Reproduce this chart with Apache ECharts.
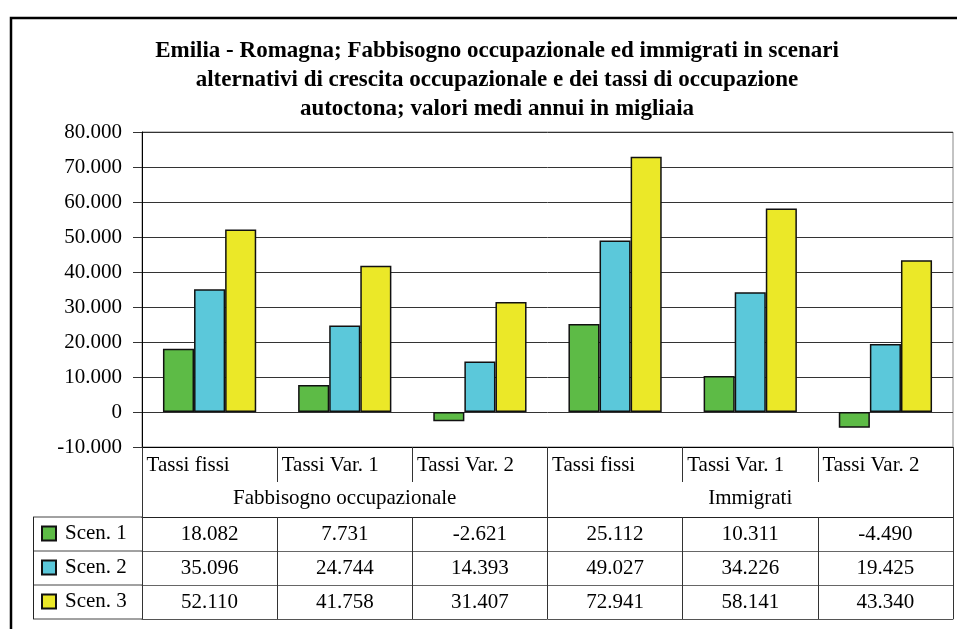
<!DOCTYPE html>
<html>
<head>
<meta charset="utf-8">
<script src="https://cdn.jsdelivr.net/npm/echarts@6/dist/echarts.min.js"></script>
<style>
html, body { margin: 0; padding: 0; background: #fff; }
#chart { width: 957px; height: 629px; }
</style>
</head>
<body>
<div id="chart"></div>
<script>
var categories = ['Tassi fissi', 'Tassi Var. 1', 'Tassi Var. 2', 'Tassi fissi', 'Tassi Var. 1', 'Tassi Var. 2'];
var groups = ['Fabbisogno occupazionale', 'Immigrati'];
var seriesNames = ['Scen. 1', 'Scen. 2', 'Scen. 3'];
var scen1 = [18082, 7731, -2621, 25112, 10311, -4490];
var scen2 = [35096, 24744, 14393, 49027, 34226, 19425];
var scen3 = [52110, 41758, 31407, 72941, 58141, 43340];
var yMin = -10000, yMax = 80000, yStep = 10000;

var titleText = 'Emilia - Romagna; Fabbisogno occupazionale ed immigrati in scenari\nalternativi di crescita occupazionale e dei tassi di occupazione\nautoctona; valori medi annui in migliaia';

var font = 'Liberation Serif';
var colors = ['#5dbb46', '#5bc8da', '#ebe828'];

// italian thousands separator
function fmt(v) {
    var s = Math.abs(v).toString().replace(/\B(?=(\d{3})+(?!\d))/g, '.');
    return (v < 0 ? '-' : '') + s;
}

var chartDom = document.getElementById('chart');
var myChart = echarts.init(chartDom);

var gridBottomY = 447;
var rowOffsets = [70, 104, 138];
var lastOffset = 172;

var rows = [scen1, scen2, scen3];
var xAxes = [
    {
        type: 'category', data: categories, position: 'bottom', offset: 0,
        axisLine: { onZero: false, lineStyle: { color: '#000', width: 1 } },
        axisTick: { show: true, length: 35, interval: 0, lineStyle: { color: '#333' } },
        axisLabel: {
            interval: 0, margin: 8, color: '#000', fontFamily: font, fontSize: 21,
            formatter: function (v) { return '{a|' + v + '}'; },
            rich: { a: { width: 126, align: 'left', fontFamily: font, fontSize: 21, color: '#000' } }
        }
    },
    {
        type: 'category', data: groups, position: 'bottom', offset: 0,
        axisLine: { show: false, onZero: false },
        axisTick: { show: true, length: 70, interval: 0, lineStyle: { color: '#333' } },
        axisLabel: { interval: 0, margin: 41, color: '#000', fontFamily: font, fontSize: 21 }
    }
];
rows.forEach(function (r, i) {
    xAxes.push({
        type: 'category', data: r.map(fmt), position: 'bottom', offset: rowOffsets[i],
        axisLine: { show: true, onZero: false, lineStyle: { color: i === 0 ? '#222' : '#666' } },
        axisTick: { show: true, length: 34, interval: 0, lineStyle: { color: '#333' } },
        axisLabel: { interval: 0, margin: 7, color: '#000', fontFamily: font, fontSize: 21 }
    });
});
xAxes.push({
    type: 'category', data: categories, position: 'bottom', offset: lastOffset,
    axisLine: { show: true, onZero: false, lineStyle: { color: '#555' } },
    axisTick: { show: false }, axisLabel: { show: false }
});

var series = rows.map(function (r, i) {
    return {
        name: seriesNames[i],
        type: 'bar',
        xAxisIndex: 0,
        data: r,
        barGap: '0%',
        barCategoryGap: '31%',
        itemStyle: { color: colors[i], borderColor: '#111', borderWidth: 1.5 }
    };
});

// legend column of the data table
var legLines = [];
[517, 551, 585, 619].forEach(function (y) {
    legLines.push({ type: 'line', shape: { x1: 33, y1: y, x2: 142, y2: y }, style: { stroke: '#444', lineWidth: 1 } });
});
legLines.push({ type: 'line', shape: { x1: 33.5, y1: 517, x2: 33.5, y2: 619 }, style: { stroke: '#222', lineWidth: 1 } });

var option = {
    animation: false,
    title: {
        text: titleText,
        left: 492,
        top: 32,
        textAlign: 'center',
        textStyle: { fontFamily: font, fontWeight: 'bold', fontSize: 23, lineHeight: 29, color: '#000' }
    },
    legend: {
        orient: 'vertical',
        left: 41,
        top: 523,
        padding: 0,
        itemWidth: 14,
        itemHeight: 14,
        itemGap: 13,
        icon: 'rect',
        data: seriesNames,
        textStyle: { fontFamily: font, fontSize: 21, color: '#000', padding: [2, 0, 0, 4] }
    },
    grid: {
        left: 142, right: 4, top: 132, bottom: 629 - gridBottomY,
        show: true, borderColor: '#888', borderWidth: 1
    },
    xAxis: xAxes,
    yAxis: {
        type: 'value', min: yMin, max: yMax, interval: yStep,
        axisLine: { show: true, lineStyle: { color: '#000' } },
        axisTick: { show: true, length: 9, lineStyle: { color: '#333' } },
        axisLabel: { margin: 20, color: '#000', fontFamily: font, fontSize: 21, formatter: fmt },
        splitLine: { lineStyle: { color: '#333', width: 1 } }
    },
    series: series,
    graphic: [
        { type: 'rect', shape: { x: 11, y: 18, width: 1000, height: 700 }, style: { fill: 'none', stroke: '#000', lineWidth: 2.5 }, z: 100 }
    ].concat(legLines)
};

option && myChart.setOption(option);
</script>
</body>
</html>
